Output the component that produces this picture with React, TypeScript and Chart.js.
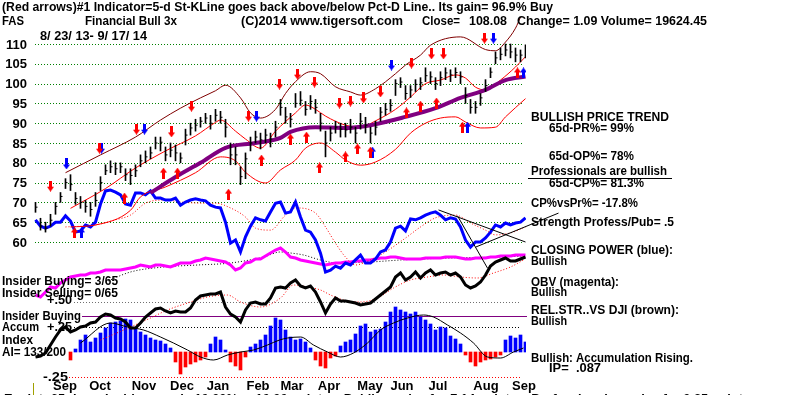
import React, { useEffect, useRef } from "react";
import { Chart, registerables } from "chart.js";

Chart.register(...registerables);

// ---------------- data ----------------
const MONTHS = ["Sep", "Oct", "Nov", "Dec", "Jan", "Feb", "Mar", "Apr", "May", "Jun", "Jul", "Aug", "Sep"];
const MONTH_AT = [5.9, 12.9, 21.7, 29.3, 36.5, 44.5, 51.3, 58.7, 66.9, 73.3, 80.5, 90.1, 97.7];
const PRICE_TICKS = [110, 105, 100, 95, 90, 85, 80, 75, 70, 65, 60];
const AI_LEVELS = [0.5, 0.25, -0.25];
const AI_LEVEL_LABELS = ["+.50", "+.25", "-.25"];
const INSIDER_LEVEL = 0.36;

const CLOSE = [68.8, 64, 63.5, 65.5, 69, 71.5, 75, 74.5, 71, 70,
  69, 68.2, 70.5, 75, 78, 79, 78.5, 79, 77, 76.8,
  78, 80.5, 81.5, 82.5, 85, 85.2, 82, 83.2, 82.5, 81.2,
  87, 88.8, 89.5, 90.5, 91.3, 90, 92, 91.5, 89, 82,
  82, 76.5, 81, 85, 86.5, 85.8, 87, 86, 89, 94,
  91.6, 91, 95, 95.8, 93.5, 95.5, 94, 90, 85, 87.5,
  89, 88.5, 88.3, 89, 87.5, 90.5, 89.5, 87.5, 89, 92.8,
  93.5, 94.5, 100, 100.4, 97.5, 98.4, 99.8, 100.2, 102, 101.7,
  100, 101.5, 102.7, 102.2, 102.8, 101.7, 97, 94, 94, 96.4,
  99.5, 102.9, 106.5, 107.4, 108.5, 108, 107.2, 107.2, 108.08];
const HIGH = [70, 66, 65, 67, 70, 72.5, 76, 77, 72.5, 71.5,
  70.5, 70, 72.5, 76.5, 79.5, 80.5, 80, 80, 78.5, 78.5,
  79.5, 82, 83, 84, 86.5, 86.5, 84, 85, 84.5, 82.5,
  88.5, 90, 91, 91.5, 92.5, 92, 93.5, 93, 91, 85,
  84, 79, 82.5, 86.5, 88, 87.5, 88.5, 87.5, 90.5, 96,
  94, 92.5, 97.5, 98, 95.5, 97, 96, 92.5, 88, 89,
  90.5, 90, 90, 91, 89, 92.5, 91.5, 89, 90.5, 94,
  95, 96, 101, 101.5, 99.5, 99.5, 101, 101.5, 104, 103,
  101.5, 103, 104, 103.5, 104, 103, 99, 96, 95.5, 97.5,
  101, 104, 108, 109, 110, 110, 109, 108.5, 109.8];
const LOW = [67.5, 63, 62.5, 64, 67, 70, 73.5, 73, 69.5, 68.5,
  67.5, 66.5, 69, 73, 77, 77.5, 77, 77.5, 75.5, 74.5,
  76.5, 79, 80, 81, 83.5, 83, 80.5, 81.5, 80.5, 80,
  84.5, 87, 88, 89, 90, 88.5, 90.5, 90, 86.5, 79.5,
  79.5, 74.5, 76, 83, 85, 83.5, 85, 84, 86.5, 92,
  90, 89, 94, 94.5, 92, 93.5, 92.5, 88, 81.5, 85.5,
  87.5, 86.5, 86.5, 87.5, 85, 88.5, 87.5, 85, 87, 90.5,
  92, 93, 97, 99, 96, 96.5, 98, 98.5, 100.5, 100,
  98.5, 99.5, 101, 100.5, 101.5, 100, 95, 92.5, 92.5, 94.5,
  98, 101.5, 105, 106, 107, 106.5, 105.5, 105.5, 106.5];

// Closing Power (blue), plotted on the price scale
const CP = [65.6, 64.0, 63.5, 64.0, 65.0, 65.0, 66.6, 65.3, 62.5, 62.8,
  64.3, 63.8, 65.0, 69.6, 72.9, 73.1, 72.6, 71.9, 69.6, 69.3,
  72.4, 72.4, 71.9, 72.9, 71.1, 71.1, 70.6, 70.6, 71.1, 69.3,
  70.1, 70.6, 70.9, 70.6, 70.4, 69.3, 68.8, 68.6, 65.0, 59.7,
  60.5, 57.5, 61.3, 64.0, 66.1, 65.6, 65.3, 67.6, 69.8, 70.1,
  67.3, 67.6, 70.1, 66.3, 63.0, 62.5, 60.5, 57.2, 52.4, 52.9,
  53.9, 53.4, 54.7, 54.2, 55.5, 56.7, 54.7, 54.7, 55.7, 57.5,
  58.0, 60.0, 63.5, 64.0, 62.8, 65.8, 65.6, 66.1, 66.8, 67.3,
  67.6, 66.8, 65.6, 66.1, 65.8, 63.8, 60.5, 58.7, 60.0, 60.0,
  61.0, 62.5, 64.3, 63.8, 64.8, 64.3, 64.8, 65.0, 66.1];

// OBV (magenta)
const OBV = [2.5, 1.5, 4, 6.5, 6, 8.5, 10, 11.5, 12, 12.5,
  12.5, 13.5, 13.5, 14, 15, 15, 15, 15, 15.5, 16,
  16.5, 17.5, 17, 16.5, 17.5, 17.5, 17, 16.5, 17.5, 18.5,
  18.5, 18.5, 19.5, 20, 21, 20.5, 20, 19.5, 19, 17.5,
  15, 16, 18.5, 19, 20.5, 20.5, 22, 23.5, 25, 26,
  24, 21.5, 21, 20, 19.5, 19, 18.5, 18, 17.5, 18,
  18.5, 18.5, 19, 19, 19.5, 19.5, 20, 20, 20.5, 21,
  21, 21.5, 21.5, 21, 20.5, 20.5, 20.5, 20.5, 21, 21,
  21, 21, 21.5, 21.5, 21.5, 21, 20.5, 20.5, 21, 21,
  21, 21.5, 21.5, 22, 22, 22, 22.5, 22.5, 22.5];

// Relative strength (black)
const RS = [1.5, 2, 3.5, 7.5, 11.5, 15, 16.5, 14, 15, 16.5,
  17, 18.5, 19, 21.5, 23, 22.5, 21, 20.5, 19, 16,
  16, 18.5, 21.5, 23.5, 25.5, 26, 24.5, 23.5, 24.5, 24,
  24, 26, 30, 32, 32.5, 33, 33, 34, 26.5, 23,
  21.5, 19, 25, 28.5, 29, 28, 28, 31, 36, 36.5,
  36, 38.5, 40, 37, 36, 37, 34, 29, 23.5, 28,
  31, 29.5, 29.5, 29, 28.5, 27.5, 28, 28.5, 30.5, 32.5,
  34.5, 36.5, 41.5, 43.5, 40, 41.5, 44, 41, 43.5, 45,
  42.5, 43.5, 44, 42.5, 43.5, 41.5, 37.5, 36, 37, 39,
  42.5, 47, 49, 50, 51, 49.5, 49.5, 50.5, 51.5];

// Accumulation Index
const AI = [null, null, null, null, null, null, null, -0.08, 0.03, 0.12,
  0.17, 0.10, 0.14, 0.19, 0.24, 0.29, 0.30, 0.31, 0.33, 0.32,
  0.24, 0.20, 0.17, 0.14, 0.12, 0.11, 0.08, 0.04, -0.10, -0.22,
  -0.15, -0.12, -0.10, -0.08, -0.05, 0.08, 0.15, 0.12, 0.02, -0.10,
  -0.14, -0.18, -0.05, 0.05, 0.08, 0.12, 0.17, 0.26, 0.34, 0.32,
  0.22, 0.15, 0.12, 0.13, 0.10, 0.04, -0.08, -0.14, -0.16, -0.06,
  -0.04, 0.06, 0.10, 0.12, 0.18, 0.26, 0.28, 0.20, 0.22, 0.23,
  0.30, 0.40, 0.45, 0.42, 0.40, 0.38, 0.40, 0.35, 0.32, 0.28,
  0.22, 0.25, 0.24, 0.16, 0.13, 0.08, -0.03, -0.10, -0.14, -0.10,
  -0.08, -0.07, -0.05, -0.03, 0.12, 0.16, 0.14, 0.17, 0.10];

// Bands and moving averages (sampled)
const UPPER_X = [6, 13, 20, 25, 29, 33, 36, 38, 41, 43, 45, 48, 50, 52, 55, 57, 60, 63, 65, 68, 72, 74, 77, 79, 85, 90, 92, 94, 96, 97];
const UPPER_Y = [77.5, 82, 86.5, 90.8, 93.8, 96.4, 98.2, 99.6, 96.4, 92.6, 91.3, 93.5, 97.5, 100.5, 103, 102.5, 99.2, 97.9, 97.1, 98.7, 102.5, 104.7, 107.2, 109.7, 111.8, 108.6, 108.3, 110.5, 114, 116.8];
const MID_X = [7, 14, 20, 26, 32, 36, 37, 40, 42, 45, 48, 52, 54, 56, 58, 62, 65, 68, 72, 75, 78, 81, 84, 86, 88, 90, 93, 96, 98];
const MID_Y = [68.5, 73.5, 78.7, 83, 86.8, 90.2, 90.8, 88, 86, 83.7, 88, 92.6, 94.6, 93.5, 91.8, 89.5, 89, 90.6, 93.5, 96.6, 100, 100.9, 102.2, 101.4, 99.1, 98.4, 100.9, 104.2, 106.8];
const LOWER_X = [7, 12, 19, 21, 26, 32, 37, 40, 42, 46, 49, 52, 54, 57, 60, 62, 65, 68, 72, 75, 78, 81, 84, 86, 89, 92, 94, 98];
const LOWER_Y = [63.8, 64.3, 68, 71.4, 73.9, 77.5, 81.5, 80.5, 77.6, 74.9, 78.2, 80.7, 83.7, 85, 82.7, 80.7, 79.4, 80.2, 83.4, 87.5, 90, 91.3, 91.6, 90.3, 88.8, 89, 91.6, 96.2];
const MA65_X = [23, 28, 33, 38, 44, 49, 51, 56, 62, 67, 74, 80, 85, 90, 94, 98];
const MA65_Y = [72.4, 76.4, 80, 83.8, 85, 86.3, 87.8, 89, 88.8, 89.5, 91.6, 93.8, 96.4, 98.4, 100.9, 101.8];
const CPMA_X = [6, 12, 16, 19, 22, 26, 29, 34, 36, 39, 42, 44, 47, 50, 52, 56, 58, 60, 62, 64, 67, 70, 74, 77, 80, 84, 87, 90, 92, 95, 98];
const CPMA_Y = [63.8, 64.3, 65.6, 66.8, 69.8, 70.6, 70.1, 69.8, 69.8, 68.6, 66.3, 63.5, 63, 66.8, 68.6, 67.3, 63.8, 59.7, 56.2, 54.2, 55.5, 57.5, 61, 63.8, 66.1, 66.8, 64.8, 63, 61.8, 62.3, 63.8];
const OBVMA_X = [14, 19, 25.6, 32.4, 39, 45.6, 49, 51, 53.6, 57, 60.4, 67, 73, 83, 93, 98];
const OBVMA_Y = [9, 14, 16.5, 17.5, 18.5, 21.5, 24, 23.5, 22.5, 20, 18.5, 19, 20, 21, 21.5, 22];
const RSMA_X = [13, 19, 23, 26.4, 30.4, 34.4, 38.4, 41, 45, 49, 51.6, 54.4, 57, 59, 61.6, 65, 68.4, 71.6, 75, 78.4, 81.6, 85, 88.4, 91.6, 95, 97.6];
const RSMA_Y = [10, 16.5, 21, 25, 28.5, 31.5, 32.5, 29, 26.5, 31, 37.5, 36.5, 35, 32.5, 30, 29, 31, 36, 40, 41.5, 42.5, 41.5, 41, 43.5, 46.5, 50];
const AIMA_X = [9, 15, 18.4, 21.6, 25, 27.6, 30.4, 33, 35.6, 38.4, 41, 43.6, 46.4, 48.8, 50.4, 53, 55.6, 58.4, 61, 63.6, 66.4, 69, 71.6, 74.4, 77.6, 79.6, 82.4, 85, 87.6, 90.4, 93, 95.6, 97.6];
const AIMA_Y = [0.09, 0.29, 0.25, 0.22, 0.15, 0.09, 0.02, -0.05, -0.08, -0.03, 0, 0.02, 0.07, 0.12, 0.14, 0.15, 0.07, 0, -0.05, -0.01, 0.09, 0.22, 0.29, 0.34, 0.37, 0.35, 0.27, 0.19, 0.09, -0.05, -0.06, 0, 0.04];

// Closing Power trendlines
const TREND_A_X = [80.6, 98];
const TREND_A_Y = [68.1, 60.0];
const TREND_B_X = [84.4, 90.4];
const TREND_B_Y = [66.6, 53.4];
const TREND_C_X = [88, 104.6];
const TREND_C_Y = [58.7, 67.3];

// Signal arrows
const DN_RED_X = [3, 12.8, 20.2, 27.2, 31.2, 42.6, 48.8, 52.4, 55.8, 60.8, 63, 65.6, 69, 75.2, 79.2, 81.6, 89.8];
const DN_RED_Y = [74.1, 83.7, 88.5, 87.8, 94.3, 91.8, 99.9, 102.4, 100.4, 95.1, 95.6, 96.4, 97.9, 105.2, 107.5, 107.5, 111.5];
const DN_BLUE_X = [6.2, 13.2, 21.8, 44.2, 71.2, 91.6];
const DN_BLUE_Y = [79.7, 83.7, 88.5, 91.8, 104.7, 111.5];
const UP_RED_X = [7.8, 17.8, 25.6, 28.4, 38.6, 45.2, 51, 54.2, 56.8, 62, 64.4, 67, 74.2, 77, 80.2, 85.4, 96.4];
const UP_RED_Y = [62.3, 71.1, 77.4, 77.4, 72.1, 80.7, 86, 86.5, 78.7, 81.5, 83.5, 82.7, 92.6, 94.3, 95.1, 89, 102.7];
const UP_BLUE_X = [9.2, 67.4, 86.4, 97.6];
const UP_BLUE_Y = [62.3, 82.7, 89, 102.7];

// ---------------- helpers ----------------
const FONT = "'Liberation Sans', Arial, Helvetica, sans-serif";

function drawText(ctx: any, t: string, x: number, y: number, w?: number, align: string = "left", size: number = 13) {
  ctx.save();
  ctx.font = `bold ${size}px ${FONT}`;
  ctx.textBaseline = "middle";
  ctx.textAlign = "left";
  ctx.fillStyle = "#000";
  const m = ctx.measureText(t).width;
  const tw = w || m;
  let left = x;
  if (align === "right") left = x - tw;
  if (align === "center") left = x - tw / 2;
  ctx.translate(left, y);
  ctx.scale(tw / m, 1);
  ctx.fillText(t, 0, 0);
  ctx.restore();
}

const pts = (xs: number[], ys: number[]) => xs.map((x, i) => ({ x, y: ys[i] }));
const ser = (arr: any[]) => arr.map((y, i) => ({ x: i, y }));

const overlay = {
  id: "overlay",
  beforeDraw(chart: any) {
    const { ctx, width, height } = chart;
    ctx.save();
    ctx.fillStyle = "#fff";
    ctx.fillRect(0, 0, width, height);
    ctx.restore();
  },
  beforeDatasetsDraw(chart: any) {
    const ctx = chart.ctx;
    const ys = chart.scales.y;
    const ya = chart.scales.yAI;
    ctx.save();
    ctx.lineWidth = 1;
    ctx.setLineDash([1, 2]);
    ctx.strokeStyle = "#008000";
    PRICE_TICKS.forEach((t) => {
      const p = Math.round(ys.getPixelForValue(t)) + 0.5;
      ctx.beginPath();
      ctx.moveTo(35, p);
      ctx.lineTo(522, p);
      ctx.stroke();
    });
    const lvlColors = ["#707070", "#000000", "#ff0000"];
    AI_LEVELS.forEach((l, k) => {
      const p = Math.round(ya.getPixelForValue(l)) + 0.5;
      ctx.strokeStyle = lvlColors[k];
      ctx.beginPath();
      ctx.moveTo(k === 2 ? 66 : 74, p);
      ctx.lineTo(521, p);
      ctx.stroke();
    });
    ctx.setLineDash([]);
    ctx.strokeStyle = "#800080";
    const ip = Math.round(ya.getPixelForValue(INSIDER_LEVEL)) + 0.5;
    ctx.beginPath();
    ctx.moveTo(82, ip);
    ctx.lineTo(527, ip);
    ctx.stroke();
    ctx.strokeStyle = "#a0a000";
    ctx.beginPath();
    ctx.moveTo(33.5, 383);
    ctx.lineTo(33.5, 395);
    ctx.stroke();
    ctx.restore();
  },
  afterDatasetsDraw(chart: any) {
    const ctx = chart.ctx;
    const ys = chart.scales.y;
    const ya = chart.scales.yAI;
    const xs = chart.scales.x;

    drawText(ctx, "(Red arrows)#1 Indicator=5-d St-KLine goes back above/below Pct-D Line.. Its gain= 96.9% Buy", 2, 7, 551);
    drawText(ctx, "FAS", 2, 21, 22);
    drawText(ctx, "Financial Bull 3x", 85, 21, 92);
    drawText(ctx, "(C)2014 www.tigersoft.com", 241, 21, 162);
    drawText(ctx, "Close=", 422, 21, 38);
    drawText(ctx, "108.08", 469, 21, 38);
    drawText(ctx, "Change= 1.09 Volume= 19624.45", 517, 21, 190);
    drawText(ctx, "8/ 23/ 13- 9/ 17/ 14", 40, 36, 107);

    PRICE_TICKS.forEach((t) => {
      drawText(ctx, String(t), 27, ys.getPixelForValue(t) + 1, undefined, "right");
    });

    // right side commentary
    drawText(ctx, "BULLISH PRICE TREND", 531, 117, 138);
    drawText(ctx, "65d-PR%= 99%", 549, 128, 85);
    drawText(ctx, "65d-OP%= 78%", 549, 156, 85);
    drawText(ctx, "Professionals are bullish", 531, 171, 136);
    drawText(ctx, "65d-CP%= 81.3%", 549, 183, 95);
    ctx.save();
    ctx.strokeStyle = "#000";
    ctx.lineWidth = 1;
    ctx.beginPath();
    ctx.moveTo(528, 178.5);
    ctx.lineTo(672, 178.5);
    ctx.stroke();
    ctx.restore();
    drawText(ctx, "CP%vsPr%= -17.8%", 531, 203, 107);
    drawText(ctx, "Strength Profess/Pub= .5", 531, 222, 143);
    drawText(ctx, "CLOSING POWER (blue):", 531, 250, 142);
    drawText(ctx, "Bullish", 531, 261, 36);
    drawText(ctx, "OBV (magenta):", 531, 282, 88);
    drawText(ctx, "Bullish", 531, 292, 36);
    drawText(ctx, "REL.STR..VS DJI (brown):", 531, 310, 148);
    drawText(ctx, "Bullish", 531, 321, 36);
    drawText(ctx, "Bullish: Accumulation Rising.", 531, 358, 162);
    drawText(ctx, "IP=  .087", 549, 368, 52);

    // left side labels
    drawText(ctx, "Insider Buying= 3/65", 2, 281, 116);
    drawText(ctx, "Insider Selling= 0/65", 2, 293, 116);
    drawText(ctx, "Insider Buying", 2, 316, 79);
    drawText(ctx, "Accum", 2, 327, 37);
    drawText(ctx, "Index", 2, 340, 31);
    drawText(ctx, "AI= 133/200", 2, 352, 64);
    const lblX = [47, 47, 43];
    AI_LEVELS.forEach((l, k) => {
      drawText(ctx, AI_LEVEL_LABELS[k], lblX[k], ya.getPixelForValue(l) - (k === 0 ? 2 : 0), 25);
    });

    MONTHS.forEach((m, k) => {
      drawText(ctx, m, xs.getPixelForValue(MONTH_AT[k]), 386, undefined, "center");
    });

    drawText(ctx, "Explnt: 65 days  Insiders made 10.00%     10.00 points    Public made   for 7.14 points    Professionals made   for 0.85 points", 4, 399, 746);
  },
};

export default function App() {
  const ref = useRef<HTMLCanvasElement>(null);

  useEffect(() => {
    const canvas = ref.current as HTMLCanvasElement;

    const mkArrow = (color: string, up: boolean) => {
      const c = document.createElement("canvas");
      c.width = 7;
      c.height = 11;
      const g = c.getContext("2d") as CanvasRenderingContext2D;
      g.fillStyle = color;
      if (up) {
        g.beginPath();
        g.moveTo(3.5, 0);
        g.lineTo(7, 5);
        g.lineTo(0, 5);
        g.closePath();
        g.fill();
        g.fillRect(2, 5, 3, 6);
      } else {
        g.fillRect(2, 0, 3, 6);
        g.beginPath();
        g.moveTo(0, 6);
        g.lineTo(7, 6);
        g.lineTo(3.5, 11);
        g.closePath();
        g.fill();
      }
      return c;
    };

    const arrowSet = (xsA: number[], ysA: number[], img: any, order: number) => ({
      type: "line",
      data: pts(xsA, ysA),
      showLine: false,
      pointStyle: img,
      pointRadius: 5,
      pointHoverRadius: 5,
      yAxisID: "y",
      order,
    });

    const line = (data: any[], color: string, width: number, yAxisID: string, order: number, extra: any = {}) => ({
      type: "line",
      data,
      borderColor: color,
      backgroundColor: color,
      borderWidth: width,
      pointRadius: 0,
      fill: false,
      tension: 0,
      yAxisID,
      order,
      ...extra,
    });

    const smooth = { cubicInterpolationMode: "monotone" };
    const dotted = { borderDash: [1, 2] };

    const chart = new Chart(canvas, {
      type: "line",
      data: {
        datasets: [
          arrowSet(DN_RED_X, DN_RED_Y, mkArrow("#ff0000", false), 0),
          arrowSet(DN_BLUE_X, DN_BLUE_Y, mkArrow("#0000ff", false), 0),
          arrowSet(UP_RED_X, UP_RED_Y, mkArrow("#ff0000", true), 0),
          arrowSet(UP_BLUE_X, UP_BLUE_Y, mkArrow("#0000ff", true), 0),
          line(pts(TREND_A_X, TREND_A_Y), "#000", 1, "y", 1, { clip: false }),
          line(pts(TREND_B_X, TREND_B_Y), "#000", 1, "y", 1, { clip: false }),
          line(pts(TREND_C_X, TREND_C_Y), "#000", 1, "y", 1, { clip: false }),
          {
            type: "bar",
            data: HIGH.map((h, i) => ({ x: i, y: [LOW[i], h] })),
            backgroundColor: "#000",
            barThickness: 1,
            grouped: false,
            yAxisID: "y",
            order: 2,
          },
          {
            type: "line",
            data: ser(CLOSE),
            showLine: false,
            pointStyle: "dash",
            pointRadius: 2,
            pointBorderColor: "#000",
            pointBorderWidth: 1,
            yAxisID: "y",
            order: 3,
          },
          line(pts(MA65_X, MA65_Y), "#800080", 4, "y", 4, smooth),
          line(pts(UPPER_X, UPPER_Y), "#800000", 1, "y", 5, smooth),
          line(pts(MID_X, MID_Y), "#ff0000", 1, "y", 5, smooth),
          line(pts(LOWER_X, LOWER_Y), "#ff0000", 1, "y", 5, smooth),
          line(ser(CP), "#0000ff", 3, "y", 6),
          line(pts(CPMA_X, CPMA_Y), "#ff0000", 1, "y", 7, { ...smooth, ...dotted }),
          line(ser(RS), "#000000", 3, "yRs", 8),
          line(ser(OBV), "#ff00ff", 3, "yObv", 9),
          line(pts(OBVMA_X, OBVMA_Y), "#000000", 1, "yObv", 10, { ...smooth, ...dotted }),
          line(pts(RSMA_X, RSMA_Y), "#ff0000", 1, "yRs", 11, { ...smooth, ...dotted }),
          line(pts(AIMA_X, AIMA_Y), "#000000", 1, "yAI", 12, smooth),
          {
            type: "bar",
            data: ser(AI),
            backgroundColor: AI.map((v) => (v !== null && v < 0 ? "#ff0000" : "#0000ff")),
            barThickness: 3,
            grouped: false,
            yAxisID: "yAI",
            order: 13,
          },
        ] as any,
      },
      options: {
        responsive: false,
        animation: false,
        devicePixelRatio: 1,
        events: [],
        layout: { padding: { left: 33, right: 274, top: 10, bottom: 15 } },
        plugins: { legend: { display: false }, tooltip: { enabled: false }, title: { display: false } },
        scales: {
          x: { type: "linear", min: -0.5, max: 98.1, display: false, offset: false },
          y: { type: "linear", min: 25.15, max: 118.59, display: false },
          yObv: { type: "linear", min: -40, max: 145, display: false },
          yRs: { type: "linear", min: -10, max: 175, display: false },
          yAI: { type: "linear", min: -0.28, max: 3.42, display: false },
        },
      } as any,
      plugins: [overlay as any],
    });

    return () => chart.destroy();
  }, []);

  return (
    <div style={{ position: "fixed", left: 0, top: 0, width: 800, height: 395, background: "#fff" }}>
      <canvas ref={ref} width={800} height={395} style={{ display: "block", width: 800, height: 395 }} />
    </div>
  );
}
